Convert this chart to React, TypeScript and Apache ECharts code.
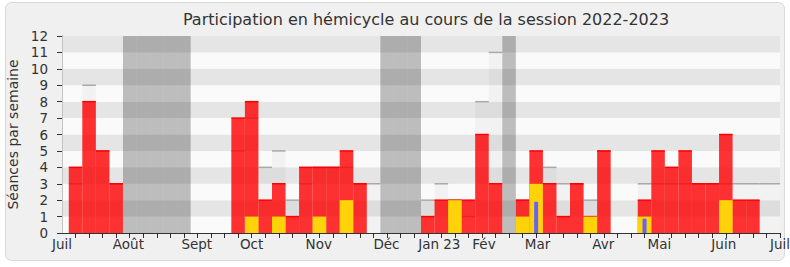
import React, { useEffect, useRef } from "react";
import * as echarts from "echarts";

// Weekly data, week index = position + 1 (week 1 .. week 53)
const presence = [
  4, 8, 5, 3, 0, 0, 0, 0, 0, 0, 0, 0,
  7, 8, 2, 3, 1, 4, 4, 4, 5, 3, 0,
  0, 0, 0,
  1, 2, 2, 2, 6, 3, 0,
  2, 5, 3, 1, 3, 1, 5, 0, 0,
  2, 5, 4, 5, 3, 3, 6, 2, 2, 0, 0,
];
const median = [
  3, 9, 5, 3, 0, 0, 0, 0, 0, 0, 0, 0,
  5, 7, 4, 5, 2, 3, 4, 4, 4, 3, 3,
  0, 0, 0,
  2, 3, 2, 1, 8, 11, 0,
  2, 3, 4, 3, 3, 2, 5, 0, 0,
  3, 3, 3, 3, 3, 3, 3, 3, 3, 3, 3,
];
const interventions = [
  0, 0, 0, 0, 0, 0, 0, 0, 0, 0, 0, 0,
  0, 1, 0, 1, 0, 0, 1, 0, 2, 0, 0,
  0, 0, 0,
  0, 0, 2, 0, 0, 0, 0,
  1, 3, 0, 0, 0, 1, 0, 0, 0,
  1, 0, 0, 0, 0, 0, 2, 0, 0, 0, 0,
];
const questions = [
  0, 0, 0, 0, 0, 0, 0, 0, 0, 0, 0, 0,
  0, 0, 0, 0, 0, 0, 0, 0, 0, 0, 0,
  0, 0, 0,
  0, 0, 0, 0, 0, 0, 0,
  0, 1.9, 0, 0, 0, 0, 0, 0, 0,
  0.87, 0, 0, 0, 0, 0, 0, 0, 0, 0, 0,
];
const vacationWeeks = [5, 6, 7, 8, 9, 24, 25, 26, 33];
const monthLabels = ["Juil", "Août", "Sept", "Oct", "Nov", "Déc", "Jan 23", "Fév", "Mar", "Avr", "Mai", "Juin", "Juil"];
const monthPositions = [0, 4.9, 9.95, 14, 18.95, 23.95, 27.85, 31.15, 35.1, 39.95, 44.1, 48.85, 53];

const FONT = "DejaVu Sans";

export default function App() {
  const ref = useRef<HTMLDivElement>(null);
  useEffect(() => {
    const chart = echarts.init(ref.current!, null, { renderer: "svg" });
    const toData = (arr: number[]) =>
      arr.map((v, i) => [i + 1, v]).filter((d) => d[1] > 0);
    const weekTicks = presence.map((_, i) => i + 1);

    const barRender =
      (fill: string, top: string | null, pxWidth?: number) =>
      (params: any, api: any) => {
        const k = api.value(0);
        const v = api.value(1);
        const p0 = api.coord([k - 0.5, v]);
        const p1 = api.coord([k + 0.5, 0]);
        let x0 = p0[0];
        let w = p1[0] - p0[0];
        if (pxWidth) {
          const c = (p0[0] + p1[0]) / 2;
          x0 = c - pxWidth / 2;
          w = pxWidth;
        }
        const children: any[] = [
          {
            type: "rect",
            shape: { x: x0, y: p0[1], width: w, height: p1[1] - p0[1] },
            style: { fill },
          },
        ];
        if (top) {
          children.push({
            type: "line",
            shape: { x1: x0, y1: p0[1], x2: x0 + w, y2: p0[1] },
            style: { stroke: top, lineWidth: 1.5 },
          });
        }
        return { type: "group", children };
      };

    const vacRender = (params: any, api: any) => {
      const k = api.value(0);
      const p0 = api.coord([k - 0.5, 12]);
      const p1 = api.coord([k + 0.5, 0]);
      return {
        type: "rect",
        shape: { x: p0[0], y: p0[1], width: p1[0] - p0[0], height: p1[1] - p0[1] },
        style: { fill: "rgba(0,0,0,0.245)" },
      };
    };

    chart.setOption({
      animation: false,
      graphic: [
        {
          type: "rect",
          z: -10,
          silent: true,
          shape: { x: 5.5, y: 2.5, width: 779, height: 258, r: 6 },
          style: { fill: "#f0f0f0", stroke: "#d9d9d9", lineWidth: 1 },
        },
        {
          type: "text",
          x: 426,
          y: 19,
          style: {
            text: "Participation en hémicycle au cours de la session 2022-2023",
            font: `16px "${FONT}"`,
            fill: "#333",
            textAlign: "center",
            textVerticalAlign: "middle",
          },
        },
      ],
      grid: {
        left: 62,
        right: 10,
        top: 36,
        bottom: 34,
        containLabel: false,
        outerBoundsMode: "none",
        show: true,
        backgroundColor: "#fafafa",
        borderWidth: 0,
      },
      xAxis: [
        {
          type: "value",
          min: 0,
          max: 53,
          axisLine: { show: true, onZero: false, lineStyle: { color: "#333", width: 1 } },
          axisTick: { show: true, length: 5, customValues: weekTicks, lineStyle: { color: "#333" } },
          axisLabel: {
            customValues: monthPositions,
            formatter: (v: number) => {
              const i = monthPositions.findIndex((p) => Math.abs(p - v) < 1e-6);
              return i >= 0 ? monthLabels[i] : "";
            },
            fontFamily: FONT,
            fontSize: 13.5,
            color: "#333",
            margin: 4,
            showMinLabel: true,
            showMaxLabel: true,
            hideOverlap: false,
          },
          splitLine: { show: false },
        },
        {
          type: "value",
          position: "top",
          min: 0,
          max: 53,
          axisLine: { show: false },
          axisTick: { show: true, inside: true, length: 2, customValues: weekTicks, lineStyle: { color: "#222" } },
          axisLabel: { show: false },
          splitLine: { show: false },
        },
      ],
      yAxis: [
        {
          type: "value",
          min: 0,
          max: 12,
          interval: 1,
          name: "Séances par semaine",
          nameLocation: "middle",
          nameGap: 42,
          nameTextStyle: { fontFamily: FONT, fontSize: 14, color: "#333" },
          axisLine: { show: true, lineStyle: { color: "#333" } },
          axisTick: { show: true, length: 5, lineStyle: { color: "#333" } },
          axisLabel: { fontFamily: FONT, fontSize: 13.5, color: "#333", margin: 14 },
          splitLine: { show: false },
          splitArea: { show: true, areaStyle: { color: ["#fafafa", "#e5e5e5"] } },
        },
        {
          type: "value",
          position: "right",
          min: 0,
          max: 12,
          interval: 1,
          axisLine: { show: true, lineStyle: { color: "#c4c4c4" } },
          axisTick: { show: false },
          axisLabel: { show: false },
          splitLine: { show: false },
        },
      ],
      series: [
        {
          type: "custom",
          name: "Vacances",
          z: 1,
          clip: true,
          renderItem: vacRender,
          data: vacationWeeks.map((k) => [k, 12]),
        },
        {
          type: "custom",
          name: "Médiane",
          z: 2,
          clip: true,
          renderItem: barRender("rgba(0,0,0,0.03)", "#a9a9a9"),
          data: toData(median),
        },
        {
          type: "custom",
          name: "Présences",
          z: 3,
          clip: true,
          renderItem: barRender("rgba(255,0,0,0.8)", "#ff0000"),
          data: toData(presence),
        },
        {
          type: "custom",
          name: "Interventions",
          z: 4,
          clip: true,
          renderItem: barRender("#ffd20a", null),
          data: toData(interventions),
        },
        {
          type: "custom",
          name: "Questions",
          z: 5,
          clip: true,
          renderItem: barRender("#6464f8", null, 4),
          data: toData(questions),
        },
      ],
    });
    return () => chart.dispose();
  }, []);
  return (
    <div
      ref={ref}
      style={{ position: "fixed", left: 0, top: 0, width: 790, height: 267, background: "#fff" }}
    />
  );
}
